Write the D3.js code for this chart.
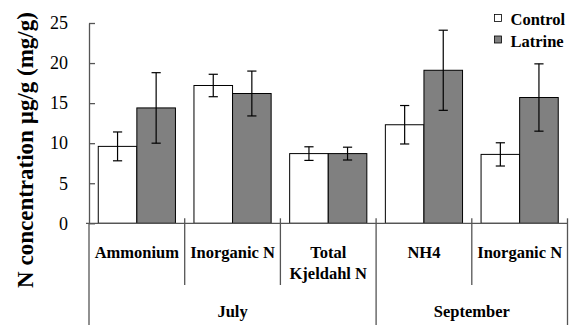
<!DOCTYPE html>
<html>
<head>
<meta charset="utf-8">
<script src="https://cdn.jsdelivr.net/npm/d3@7"></script>
<style>
  html, body { margin: 0; padding: 0; background: #fff; }
  svg { display: block; }
  svg text { font-family: "Liberation Serif", Tinos, "Times New Roman", Times, serif; }
</style>
</head>
<body>
<svg id="chart" width="571" height="325"></svg>
<script>
// Nitrogen measurements by soil treatment
const months = ["July", "September"];
const categories = ["Ammonium", "Inorganic N", "Total Kjeldahl N", "NH4", "Inorganic N"];
const categoryMonth = [0, 0, 0, 1, 1];
const series = ["Control", "Latrine"];
const controlValues = [9.6, 17.2, 8.7, 12.3, 8.6];
const controlErrors = [1.8, 1.4, 0.85, 2.4, 1.45];
const latrineValues = [14.4, 16.2, 8.7, 19.1, 15.7];
const latrineErrors = [4.4, 2.8, 0.8, 5.0, 4.2];
const yTicks = [0, 5, 10, 15, 20, 25];

const seriesValues = [controlValues, latrineValues];
const seriesErrors = [controlErrors, latrineErrors];
const fills = ["#ffffff", "#808080"];

const svg = d3.select("#chart");
const plotLeft = 89, plotRight = 567.5, plotTop = 23, plotBase = 223.3;

const keys = categories.map((c, i) => i);
const x = d3.scaleBand().domain(keys).range([plotLeft, plotRight]).paddingInner(0).paddingOuter(0);
const xs = d3.scaleBand().domain(series).range([0, x.bandwidth()]).paddingInner(0).paddingOuter(0.24);
const y = d3.scaleLinear().domain([0, 25]).range([plotBase, plotTop]);

const rows = [];
keys.forEach(i => series.forEach((s, j) => rows.push({
  cat: i, s, v: seriesValues[j][i], e: seriesErrors[j][i], fill: fills[j]
})));

// bars
svg.append("g").selectAll("rect").data(rows).join("rect")
  .attr("x", d => x(d.cat) + xs(d.s))
  .attr("y", d => y(d.v))
  .attr("width", xs.bandwidth())
  .attr("height", d => y(0) - y(d.v))
  .attr("fill", d => d.fill)
  .attr("stroke", "#000")
  .attr("stroke-width", 1);

// error bars
const eb = svg.append("g").attr("stroke", "#000").attr("stroke-width", 1.2);
const cx = d => x(d.cat) + xs(d.s) + xs.bandwidth() / 2;
const capW = 4.6;
eb.selectAll("line.v").data(rows).join("line").attr("class", "v")
  .attr("x1", cx).attr("x2", cx)
  .attr("y1", d => y(d.v + d.e)).attr("y2", d => y(d.v - d.e));
eb.selectAll("line.t").data(rows).join("line").attr("class", "t")
  .attr("x1", d => cx(d) - capW).attr("x2", d => cx(d) + capW)
  .attr("y1", d => y(d.v + d.e)).attr("y2", d => y(d.v + d.e));
eb.selectAll("line.b").data(rows).join("line").attr("class", "b")
  .attr("x1", d => cx(d) - capW).attr("x2", d => cx(d) + capW)
  .attr("y1", d => y(d.v - d.e)).attr("y2", d => y(d.v - d.e));

// y axis
const yAxis = svg.append("g").attr("transform", `translate(${plotLeft},0)`)
  .call(d3.axisLeft(y).tickValues(yTicks).tickSize(-6).tickPadding(21).tickSizeOuter(0));
yAxis.attr("font-family", null).attr("font-size", 18);
yAxis.select(".domain").attr("stroke", "#555").attr("stroke-width", 1.3);
yAxis.selectAll(".tick line").attr("stroke", "#555").attr("stroke-width", 1.3);
yAxis.selectAll(".tick text").attr("fill", "#000");

// category axis: baseline, separators, labels
const axisG = svg.append("g").attr("stroke", "#555").attr("stroke-width", 1.3);
axisG.append("line").attr("x1", plotLeft - 3).attr("x2", plotRight).attr("y1", plotBase).attr("y2", plotBase);
const bounds = keys.map(i => x(i)).concat([x(keys[keys.length - 1]) + x.bandwidth()]);
bounds.forEach((bx, k) => {
  const monthEdge = k === 0 || k === bounds.length - 1 ||
    categoryMonth[k] !== categoryMonth[k - 1];
  axisG.append("line")
    .attr("x1", bx).attr("x2", bx)
    .attr("y1", k === 0 ? plotBase : plotBase - 5)
    .attr("y2", monthEdge ? 325 : 285);
});

const labelG = svg.append("g").attr("font-weight", "bold").attr("font-size", 16.5)
  .attr("text-anchor", "middle").attr("fill", "#000");
keys.forEach(i => {
  const words = categories[i] === "Total Kjeldahl N" ? ["Total", "Kjeldahl N"] : [categories[i]];
  words.forEach((w, li) => {
    labelG.append("text")
      .attr("x", x(i) + x.bandwidth() / 2)
      .attr("y", 257.5 + li * 21.7)
      .text(w);
  });
});
months.forEach((m, mi) => {
  const idx = keys.filter(i => categoryMonth[i] === mi);
  const x0 = x(idx[0]), x1 = x(idx[idx.length - 1]) + x.bandwidth();
  labelG.append("text").attr("x", (x0 + x1) / 2).attr("y", 316.5).text(m);
});

// y title
svg.append("text")
  .attr("transform", "translate(33,150) rotate(-90)")
  .attr("text-anchor", "middle")
  .attr("font-weight", "bold").attr("font-size", 23)
  .text("N concentration µg/g (mg/g)");

// legend
const lg = svg.append("g").attr("transform", "translate(494,0)");
series.forEach((s, j) => {
  const yy = 25 + j * 21.5;
  lg.append("rect").attr("x", 0.5).attr("y", yy - 10.5).attr("width", 7).attr("height", 7)
    .attr("fill", fills[j]).attr("stroke", "#000").attr("stroke-width", 0.8);
  lg.append("text").attr("x", 16.5).attr("y", yy)
    .attr("font-weight", "bold").attr("font-size", 16.5).text(s);
});
</script>
</body>
</html>
